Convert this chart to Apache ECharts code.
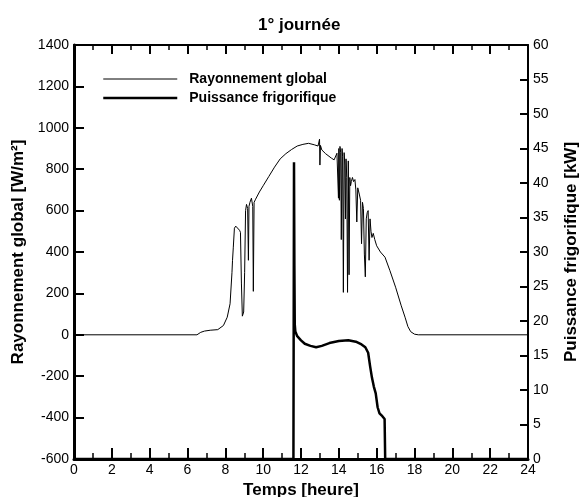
<!DOCTYPE html>
<html lang="fr">
<head>
    <meta charset="UTF-8" />
    <title>1° journée</title>
    <script src="https://cdn.jsdelivr.net/npm/echarts@6/dist/echarts.min.js"></script>
</head>
<body style="margin: 0; background: #fff">
    <div id="chart" style="width: 582px; height: 497px"></div>
    <script>
        // rayonnement global [W/m²] en fonction de l'heure
        var radHours = [0, 6.5, 6.7, 6.9, 7.2, 7.6, 7.9, 8.1, 8.25, 8.35, 8.38, 8.42, 8.48, 8.55, 8.65, 8.75, 8.8, 8.85, 8.9, 8.97,
            9.02, 9.07, 9.12, 9.18, 9.22, 9.25, 9.3, 9.38, 9.45, 9.48, 9.52, 9.6, 9.8, 10.0, 10.3, 10.6, 10.9, 11.2, 11.5, 11.8,
            12.1, 12.4, 12.7, 12.9, 12.98, 13.0, 13.03, 13.1, 13.3, 13.6, 13.75, 13.9, 13.95, 13.98, 14.0, 14.03, 14.06, 14.1,
            14.13, 14.17, 14.2, 14.24, 14.28, 14.32, 14.35, 14.38, 14.42, 14.46, 14.5, 14.54, 14.58, 14.62, 14.66, 14.72, 14.78,
            14.85, 14.9, 14.95, 15.0, 15.08, 15.15, 15.2, 15.25, 15.3, 15.35, 15.4, 15.45, 15.5, 15.55, 15.6, 15.65, 15.7, 15.75,
            15.82, 15.9, 16.0, 16.2, 16.44, 16.7, 17.0, 17.3, 17.5, 17.65, 17.8, 18.0, 18.2, 24];
        var radValues = [0, 0, 12, 18, 22, 25, 45, 85, 150, 300, 360, 420, 515, 525, 520, 505, 495, 250, 90, 110,
            300, 600, 630, 610, 360, 620, 640, 660, 620, 210, 640, 655, 690, 720, 765, 810, 850, 875, 895, 912,
            920, 925, 918, 912, 945, 820, 915, 893, 875, 854, 845, 877, 880, 660, 900, 650, 910, 880,
            460, 900, 860, 205, 880, 820, 560, 850, 760, 205, 840, 290, 760, 720, 740, 760, 740,
            750, 700, 545, 710, 680, 650, 440, 640, 610, 390, 280, 560, 590, 600, 360, 560, 500, 470,
            490, 460, 430, 400, 375, 310, 230, 140, 85, 40, 15, 3, 0, 0];

        // puissance frigorifique [kW]
        var coolHours = [0, 11.6, 11.63, 11.65, 11.67, 11.7, 11.8, 12.0, 12.2, 12.5, 12.8, 13.1, 13.5, 14.0, 14.5, 14.9, 15.2,
            15.4, 15.55, 15.65, 15.75, 15.85, 15.95, 16.05, 16.15, 16.3, 16.42, 16.45, 24];
        var coolValues = [0, 0, 43, 28, 19.5, 18.5, 17.8, 17.2, 16.7, 16.4, 16.2, 16.4, 16.8, 17.1, 17.2, 17.0, 16.6,
            16.2, 15.4, 13.5, 11.8, 10.5, 9.5, 7.5, 6.6, 6.2, 5.8, 0, 0];

        var seriesNames = ["Rayonnement global", "Puissance frigorifique"];

        var radData = radHours.map(function (h, i) { return [h, radValues[i]]; });
        var coolData = coolHours.map(function (h, i) { return [h, coolValues[i]]; });

        var font = "'Liberation Sans', Arial, sans-serif";
        var black = "#000";
        var plain = function (v) { return String(v); };

        var mCharts = echarts.init(document.getElementById("chart"));
        var option = {
            animation: false,
            backgroundColor: "#fff",
            textStyle: { fontFamily: font, color: black },
            title: {
                text: "1° journée",
                left: 253,
                top: 12,
                textStyle: { fontFamily: font, fontSize: 17, fontWeight: "bold", color: black },
            },
            legend: {
                orient: "vertical",
                left: 97,
                top: 67,
                itemWidth: 74,
                itemHeight: 14,
                itemGap: 5,
                itemStyle: { opacity: 0 },
                data: [
                    { name: seriesNames[0], lineStyle: { width: 1 } },
                    { name: seriesNames[1], lineStyle: { width: 2.5 } },
                ],
                textStyle: { fontFamily: font, fontSize: 14, fontWeight: "bold", color: black, padding: [0, 0, 0, 7] },
            },
            grid: { left: 74, right: 54, top: 45, bottom: 38, containLabel: false, outerBoundsMode: "none" },
            xAxis: [
                {
                    type: "value",
                    min: 0,
                    max: 24,
                    interval: 2,
                    name: "Temps [heure]",
                    nameLocation: "middle",
                    nameGap: 20,
                    nameTextStyle: { fontFamily: font, fontSize: 17, fontWeight: "bold", color: black },
                    axisLine: { onZero: false, lineStyle: { color: black, width: 3 } },
                    axisTick: { inside: true, length: 11, lineStyle: { color: black, width: 2 } },
                    minorTick: { show: true, splitNumber: 2, length: 6, lineStyle: { color: black, width: 1.5 } },
                    axisLabel: { fontFamily: font, fontSize: 14, color: black, margin: 4, formatter: plain },
                    splitLine: { show: false },
                },
                {
                    type: "value",
                    position: "top",
                    min: 0,
                    max: 24,
                    interval: 2,
                    axisLine: { onZero: false, lineStyle: { color: black, width: 2 } },
                    axisTick: { inside: true, length: 9, lineStyle: { color: black, width: 2 } },
                    minorTick: { show: true, splitNumber: 2, length: 5, lineStyle: { color: black, width: 1.5 } },
                    axisLabel: { show: false },
                    splitLine: { show: false },
                },
            ],
            yAxis: [
                {
                    type: "value",
                    min: -600,
                    max: 1400,
                    interval: 200,
                    name: "Rayonnement global [W/m²]",
                    nameLocation: "middle",
                    nameGap: 39,
                    nameTextStyle: { fontFamily: font, fontSize: 17, fontWeight: "bold", color: black },
                    axisLine: { show: true, onZero: false, lineStyle: { color: black, width: 3 } },
                    axisTick: { inside: true, length: 10, lineStyle: { color: black, width: 2 } },
                    axisLabel: { fontFamily: font, fontSize: 14, color: black, margin: 5, formatter: plain },
                    splitLine: { show: false },
                },
                {
                    type: "value",
                    position: "right",
                    min: 0,
                    max: 60,
                    interval: 5,
                    name: "Puissance frigorifique [kW]",
                    nameLocation: "middle",
                    nameRotate: 90,
                    nameGap: 35,
                    nameTextStyle: { fontFamily: font, fontSize: 17, fontWeight: "bold", color: black },
                    axisLine: { show: true, onZero: false, lineStyle: { color: black, width: 2 } },
                    axisTick: { inside: true, length: 8, lineStyle: { color: black, width: 2 } },
                    axisLabel: { fontFamily: font, fontSize: 14, color: black, margin: 5, formatter: plain },
                    splitLine: { show: false },
                },
            ],
            series: [
                {
                    name: seriesNames[0],
                    type: "line",
                    xAxisIndex: 0,
                    yAxisIndex: 0,
                    symbol: "none",
                    data: radData,
                    lineStyle: { color: black, width: 1 },
                    itemStyle: { color: black },
                },
                {
                    name: seriesNames[1],
                    type: "line",
                    xAxisIndex: 0,
                    yAxisIndex: 1,
                    symbol: "none",
                    data: coolData,
                    lineStyle: { color: black, width: 2.5 },
                    itemStyle: { color: black },
                },
            ],
        };
        mCharts.setOption(option);
    </script>
</body>
</html>
